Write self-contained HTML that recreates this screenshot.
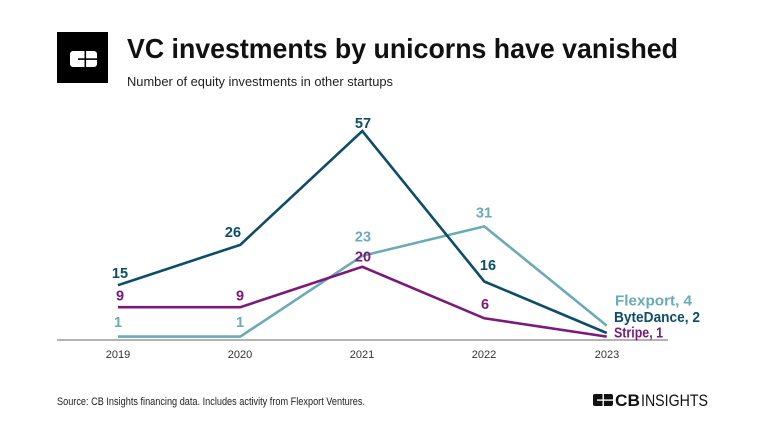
<!DOCTYPE html>
<html>
<head>
<meta charset="utf-8">
<style>
html,body{margin:0;padding:0;background:#fff;}
svg{display:block;}
text{font-family:"Liberation Sans",Arial,sans-serif;}
</style>
</head>
<body>
<svg width="768" height="432" viewBox="0 0 768 432" xmlns="http://www.w3.org/2000/svg">
<rect width="768" height="432" fill="#fff"/>
<!-- logo box -->
<rect x="57" y="32" width="51" height="51" fill="#000"/>
<rect x="70" y="51" width="27" height="16" rx="3" fill="#fff"/>
<rect x="84.5" y="51" width="1.6" height="16" fill="#000"/>
<rect x="78" y="58.3" width="19" height="1.6" fill="#000"/>
<!-- title -->
<text x="127" y="58" font-size="28" font-weight="bold" fill="#111" textLength="551" lengthAdjust="spacingAndGlyphs">VC investments by unicorns have vanished</text>
<text x="127" y="86" font-size="12.5" fill="#222" textLength="266" lengthAdjust="spacingAndGlyphs">Number of equity investments in other startups</text>
<!-- axis -->
<line x1="57" y1="340" x2="668" y2="340" stroke="#9a9a9a" stroke-width="1.5"/>
<g font-size="11" fill="#333" text-anchor="middle">
<text x="118" y="358">2019</text>
<text x="240" y="358">2020</text>
<text x="362" y="358">2021</text>
<text x="484" y="358">2022</text>
<text x="607" y="358">2023</text>
</g>
<!-- series -->
<g fill="none" stroke-width="2.6" stroke-linejoin="miter">
<polyline stroke="#6aabb7" points="118,336.6 240.3,336.6 362.3,255.8 484.3,226.4 606.7,325.6"/>
<polyline stroke="#7b1a78" points="118,307.2 240.3,307.2 362.3,266.8 484.3,318.3 606.7,336.6"/>
<polyline stroke="#0d4d6a" points="118,285.2 240.3,244.8 362.3,131 484.3,281.5 606.7,333"/>
</g>
<!-- data labels -->
<g font-size="14.5" font-weight="bold" text-anchor="middle">
<g fill="#0d4d6a">
<text x="120" y="278">15</text>
<text x="233" y="237">26</text>
<text x="363" y="128">57</text>
<text x="488" y="270">16</text>
</g>
<g fill="#6aabb7">
<text x="118" y="327">1</text>
<text x="240" y="327">1</text>
<text x="363" y="241.5">23</text>
<text x="484" y="217.5">31</text>
</g>
<g fill="#7b1a78">
<text x="120" y="300.5">9</text>
<text x="240" y="300.5">9</text>
<text x="363" y="261.5">20</text>
<text x="485" y="309">6</text>
</g>
</g>
<!-- end labels -->
<g font-size="14.5" font-weight="bold">
<text x="615" y="305.5" fill="#6aabb7" textLength="77" lengthAdjust="spacingAndGlyphs">Flexport, 4</text>
<text x="614" y="322" fill="#0d4d6a" textLength="86" lengthAdjust="spacingAndGlyphs">ByteDance, 2</text>
<text x="614" y="337.3" fill="#7b1a78" textLength="49" lengthAdjust="spacingAndGlyphs">Stripe, 1</text>
</g>
<!-- footer -->
<text x="57" y="405" font-size="11" fill="#222" textLength="308" lengthAdjust="spacingAndGlyphs">Source: CB Insights financing data. Includes activity from Flexport Ventures.</text>
<rect x="593" y="394" width="20" height="12" rx="2" fill="#111"/>
<rect x="602.5" y="394" width="1.4" height="12" fill="#fff"/>
<rect x="597" y="399.4" width="16" height="1.4" fill="#fff"/>
<text x="615" y="406" font-size="16.5" font-weight="bold" fill="#111" textLength="25" lengthAdjust="spacingAndGlyphs">CB</text>
<text x="641" y="406" font-size="16.5" fill="#111" textLength="67" lengthAdjust="spacingAndGlyphs">INSIGHTS</text>
</svg>
</body>
</html>
